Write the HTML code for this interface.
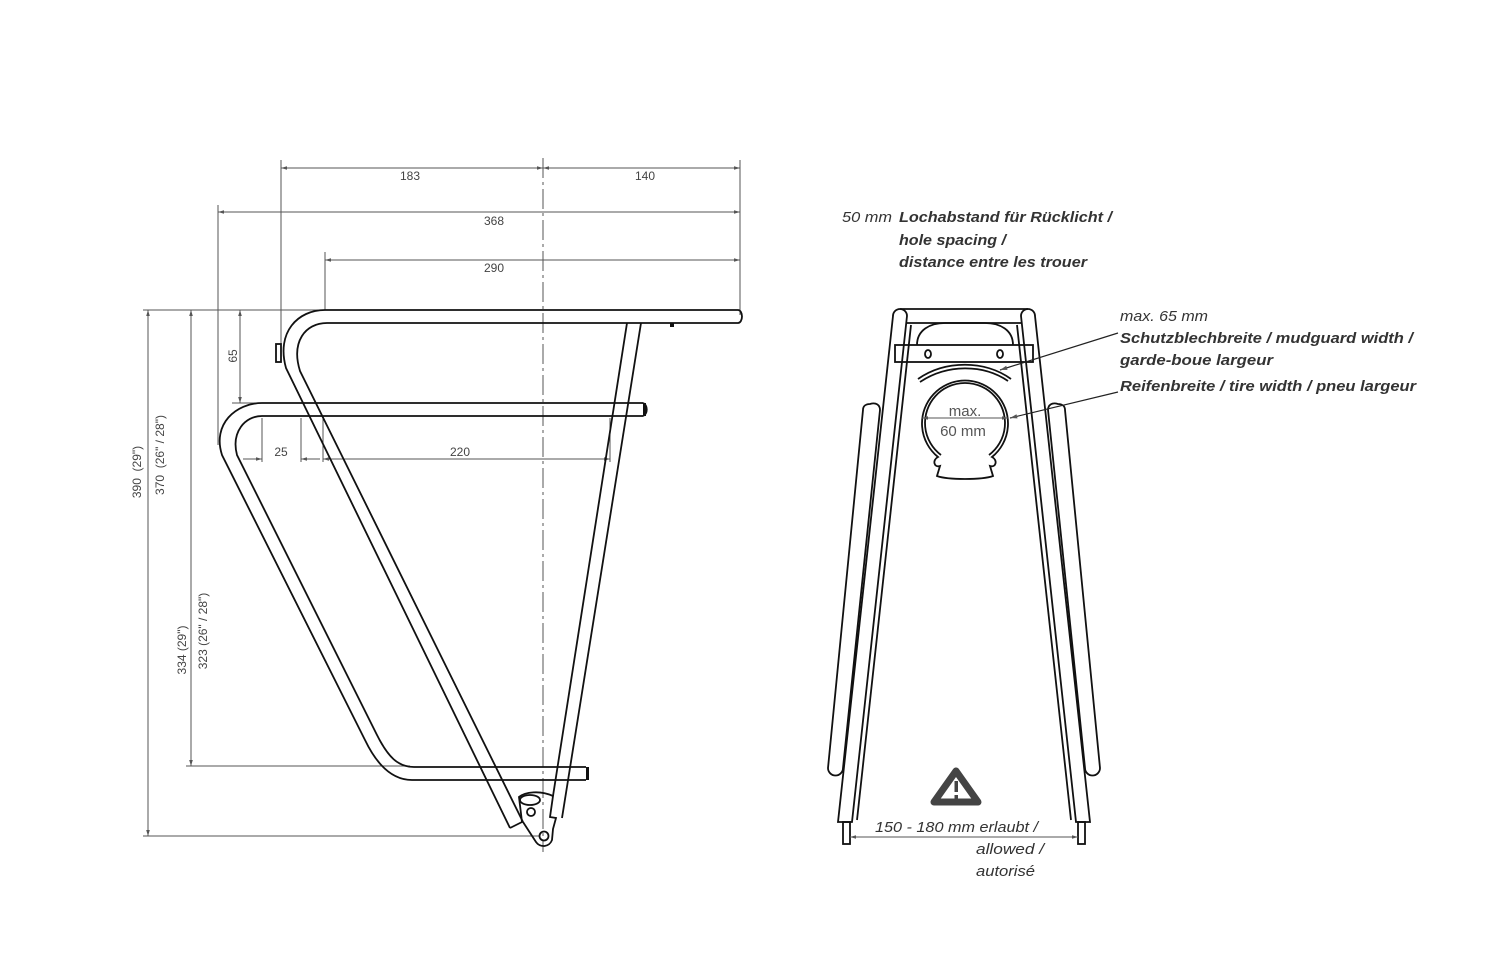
<!DOCTYPE html>
<html><head><meta charset="utf-8"><style>
html,body{margin:0;padding:0;background:#fff;}
svg{display:block;}
.t{stroke:#111;stroke-width:1.8;fill:none;}
.d{stroke:#555;stroke-width:1;fill:none;}
.dt{font-family:"Liberation Sans",sans-serif;font-size:12px;fill:#444;}
.it{font-family:"Liberation Sans",sans-serif;font-style:italic;font-size:15px;fill:#333;}
.bi{font-family:"Liberation Sans",sans-serif;font-style:italic;font-weight:bold;font-size:15px;fill:#333;}
</style></head><body>
<svg width="1500" height="979" viewBox="0 0 1500 979" xmlns="http://www.w3.org/2000/svg">
<defs>
<marker id="a" viewBox="0 0 10 10" refX="10" refY="5" markerWidth="9" markerHeight="6" orient="auto-start-reverse"><path d="M0,2 L10,5 L0,8 z" fill="#555"/></marker>
</defs>

<line x1="543" y1="158" x2="543" y2="852" class="d" stroke-dasharray="20,4,3,4"/>
<line x1="281" y1="160" x2="281" y2="345" class="d"/>
<line x1="740" y1="160" x2="740" y2="315" class="d"/>
<line x1="218" y1="205" x2="218" y2="445" class="d"/>
<line x1="325" y1="252" x2="325" y2="310" class="d"/>
<line x1="143" y1="310" x2="325" y2="310" class="d"/>
<line x1="143" y1="836" x2="540" y2="836" class="d"/>
<line x1="186" y1="766" x2="410" y2="766" class="d"/>
<line x1="232" y1="403" x2="262" y2="403" class="d"/>
<line x1="281" y1="168" x2="543" y2="168" class="d" marker-start="url(#a)" marker-end="url(#a)"/>
<line x1="543" y1="168" x2="740" y2="168" class="d" marker-start="url(#a)" marker-end="url(#a)"/>
<text x="410" y="180" class="dt" text-anchor="middle">183</text>
<text x="645" y="180" class="dt" text-anchor="middle">140</text>
<line x1="218" y1="212" x2="740" y2="212" class="d" marker-start="url(#a)" marker-end="url(#a)"/>
<text x="494" y="225" class="dt" text-anchor="middle">368</text>
<line x1="325" y1="260" x2="740" y2="260" class="d" marker-start="url(#a)" marker-end="url(#a)"/>
<text x="494" y="272" class="dt" text-anchor="middle">290</text>
<line x1="148" y1="310" x2="148" y2="836" class="d" marker-start="url(#a)" marker-end="url(#a)"/>
<line x1="191" y1="310" x2="191" y2="766" class="d" marker-start="url(#a)" marker-end="url(#a)"/>
<text transform="translate(141,472) rotate(-90)" class="dt" text-anchor="middle" xml:space="preserve">390  (29")</text>
<text transform="translate(164,455) rotate(-90)" class="dt" text-anchor="middle" xml:space="preserve">370  (26" / 28")</text>
<text transform="translate(186,650) rotate(-90)" class="dt" text-anchor="middle">334 (29")</text>
<text transform="translate(207,631) rotate(-90)" class="dt" text-anchor="middle">323 (26" / 28")</text>
<line x1="240" y1="310" x2="240" y2="403" class="d" marker-start="url(#a)" marker-end="url(#a)"/>
<text transform="translate(237,356) rotate(-90)" class="dt" text-anchor="middle">65</text>
<line x1="262" y1="418" x2="262" y2="462" class="d"/>
<line x1="301" y1="418" x2="301" y2="462" class="d"/>
<line x1="323" y1="418" x2="323" y2="462" class="d"/>
<line x1="610" y1="418" x2="610" y2="462" class="d"/>
<line x1="243" y1="459" x2="262" y2="459" class="d" marker-end="url(#a)"/>
<line x1="320" y1="459" x2="301" y2="459" class="d" marker-end="url(#a)"/>
<line x1="323" y1="459" x2="610" y2="459" class="d" marker-start="url(#a)" marker-end="url(#a)"/>
<text x="281" y="456" class="dt" text-anchor="middle">25</text>
<text x="460" y="456" class="dt" text-anchor="middle">220</text>

<g fill="#fff">
<path class="t" d="M738,310 H325 C298,310 276,332 286,368 L510,828"/>
<path class="t" d="M738,323 H327 C305,323 291,342 300,371 L523,822"/>
<path class="t" d="M738,310 A4,6.5 0 0 1 738,323"/>
<path class="t" d="M643,403 H262 C236,403 212,424 222,455 L365,740 C377,765 392,780 412,780 H586"/>
<path class="t" d="M643,416 H262 C245,416 231,432 237,455 L377,735 C388,757 398,767 414,767 H586"/>
<path class="t" d="M643,403 C648,405 648,414 643,416" />
<rect x="643" y="403" width="3" height="13" fill="#111"/>
<rect x="586" y="767" width="3" height="13" fill="#111"/>
<line class="t" x1="627" y1="323" x2="553" y2="796"/>
<line class="t" x1="641" y1="323" x2="562" y2="818"/>
<path class="t" d="M510,828 L522,822 L519,797 C525,792 540,790 553,796 L550,817 L556,818 L553,829 L552,840 A9,9 0 0 1 536,842 L523,822"/>
<ellipse class="t" cx="530" cy="800" rx="10" ry="5"/>
<circle class="t" cx="531" cy="812" r="4"/>
<circle class="t" cx="544" cy="836" r="4.5"/>
<rect class="t" x="276" y="344" width="5" height="18"/>
<rect x="670" y="323" width="4" height="4" fill="#111"/>
</g>

<g fill="#fff">
<path class="t" d="M870,404 C876,402 880,405 880,410 L843,768 A7.5,7.5 0 0 1 828,768 L863,410 C863,406 866,404 870,404 Z"/>
<path class="t" d="M1058,404 C1052,402 1048,405 1048,410 L1085,768 A7.5,7.5 0 0 0 1100,768 L1065,410 C1065,406 1062,404 1058,404 Z"/>
<path class="t" d="M893,316 A7,7 0 0 1 907,316 L852,822 L838,822 Z"/>
<path class="t" d="M1021,316 A7,7 0 0 1 1035,316 L1090,822 L1076,822 Z"/>
<line class="t" x1="911" y1="325" x2="857" y2="820" stroke-width="1.2"/>
<line class="t" x1="1017" y1="325" x2="1071" y2="820" stroke-width="1.2"/>
<rect class="t" x="843" y="822" width="7" height="22" stroke-width="1.3"/>
<rect class="t" x="1078" y="822" width="7" height="22" stroke-width="1.3"/>
<path class="t" d="M900,309 H1028 M906,323 H1022"/>
<path class="t" d="M917,345 C917,330 930,323 945,323 H985 C1000,323 1013,330 1013,345"/>
<rect class="t" x="895" y="345" width="138" height="17"/>
<ellipse class="t" cx="928" cy="354" rx="3" ry="4"/>
<ellipse class="t" cx="1000" cy="354" rx="3" ry="4"/>
<path class="t" d="M918,379 C945,360 985,360 1011,379" fill="none"/>
<path class="t" d="M920,382 C947,364 983,364 1008,381" fill="none" stroke-width="1.2"/>
<path class="t" d="M938,457 A43,43 0 1 1 992,457 C998,460 996,468 990,466 L993,476 C982,480 948,480 937,476 L940,466 C934,468 932,460 938,457 Z"/>
<path class="t" d="M941,455 A40,40 0 1 1 989,455" stroke-width="1.1"/>
</g>
<line x1="922" y1="418" x2="1008" y2="418" class="d" marker-start="url(#a)" marker-end="url(#a)"/>
<rect x="938" y="405" width="54" height="12" fill="#fff"/>
<text x="965" y="416" font-family="Liberation Sans,sans-serif" font-size="15" fill="#555" text-anchor="middle">max.</text>
<text x="963" y="436" font-family="Liberation Sans,sans-serif" font-size="15" fill="#555" text-anchor="middle">60 mm</text>
<line x1="1118" y1="333" x2="1000" y2="370" stroke="#222" stroke-width="1.2" marker-end="url(#a)"/>
<line x1="1118" y1="392" x2="1010" y2="418" stroke="#222" stroke-width="1.2" marker-end="url(#a)"/>
<line x1="850" y1="837" x2="1078" y2="837" class="d" marker-start="url(#a)" marker-end="url(#a)"/>
<path d="M956,771 L978,802 L934,802 Z" fill="none" stroke="#444" stroke-width="7" stroke-linejoin="round"/>
<rect x="954.5" y="781" width="3.5" height="11" fill="#444"/>
<rect x="954.5" y="795" width="3.5" height="3.5" fill="#444"/>

<text x="842" y="222" class="it" textLength="50" lengthAdjust="spacingAndGlyphs">50 mm</text>
<text x="899" y="222" class="bi" textLength="213" lengthAdjust="spacingAndGlyphs">Lochabstand für Rücklicht /</text>
<text x="899" y="245" class="bi" textLength="107" lengthAdjust="spacingAndGlyphs">hole spacing /</text>
<text x="899" y="267" class="bi" textLength="188" lengthAdjust="spacingAndGlyphs">distance entre les trouer</text>
<text x="1120" y="321" class="it" textLength="88" lengthAdjust="spacingAndGlyphs">max. 65 mm</text>
<text x="1120" y="343" class="bi" textLength="293" lengthAdjust="spacingAndGlyphs">Schutzblechbreite / mudguard width /</text>
<text x="1120" y="365" class="bi" textLength="153" lengthAdjust="spacingAndGlyphs">garde-boue largeur</text>
<text x="1120" y="391" class="bi" textLength="296" lengthAdjust="spacingAndGlyphs">Reifenbreite / tire width / pneu largeur</text>
<text x="875" y="832" class="it" textLength="163" lengthAdjust="spacingAndGlyphs">150 - 180 mm erlaubt /</text>
<text x="976" y="854" class="it" textLength="68" lengthAdjust="spacingAndGlyphs">allowed /</text>
<text x="976" y="876" class="it" textLength="59" lengthAdjust="spacingAndGlyphs">autorisé</text>
</svg>
</body></html>
